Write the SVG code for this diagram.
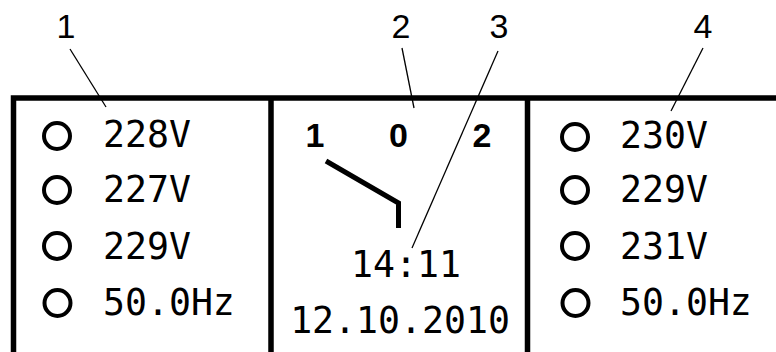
<svg xmlns="http://www.w3.org/2000/svg" width="776" height="352" viewBox="0 0 776 352">
<style>
.frame{fill:none;stroke:#000;stroke-width:5.5}
.led{fill:none;stroke:#000;stroke-width:4}
.val{font-family:"DejaVu Sans Mono",monospace;font-size:36.5px;fill:#000}
.pos{font-family:"Liberation Sans",Arial,sans-serif;font-size:34px;font-weight:bold;fill:#000}
.lbl{font-family:"Liberation Sans",Arial,sans-serif;font-size:34px;fill:#000}
.lead{fill:none;stroke:#000;stroke-width:1.3}
</style>
<rect width="776" height="352" fill="#fff"/>
<g id="frame">
<path class="frame" d="M13.5,352 V98 H776 M271,98 V352 M527.5,98 V352"/>
</g>
<g id="panel-left">
<circle class="led" cx="57" cy="136" r="13"/>
<circle class="led" cx="57" cy="190" r="13"/>
<circle class="led" cx="57" cy="246" r="13"/>
<circle class="led" cx="57.5" cy="303" r="13"/>
<text class="val" x="103" y="147">228V</text>
<text class="val" x="103" y="202">227V</text>
<text class="val" x="103" y="259">229V</text>
<text class="val" x="103" y="315">50.0Hz</text>
</g>
<g id="panel-center">
<text class="pos" x="315" y="147" text-anchor="middle">1</text>
<text class="pos" x="398.5" y="147" text-anchor="middle">0</text>
<text class="pos" x="482" y="147" text-anchor="middle">2</text>
<polyline points="326,161 398.5,203 398.5,228" fill="none" stroke="#000" stroke-width="5"/>
<text class="val" x="406" y="277" text-anchor="middle">14:11</text>
<text class="val" x="400" y="333" text-anchor="middle">12.10.2010</text>
</g>
<g id="panel-right">
<circle class="led" cx="575" cy="137" r="13"/>
<circle class="led" cx="575" cy="190" r="13"/>
<circle class="led" cx="575" cy="246" r="13"/>
<circle class="led" cx="575.5" cy="303" r="13"/>
<text class="val" x="620" y="148">230V</text>
<text class="val" x="620" y="202">229V</text>
<text class="val" x="620" y="259">231V</text>
<text class="val" x="620" y="315">50.0Hz</text>
</g>
<g id="labels">
<text class="lbl" x="66" y="38" text-anchor="middle">1</text>
<text class="lbl" x="401" y="38" text-anchor="middle">2</text>
<text class="lbl" x="499" y="38" text-anchor="middle">3</text>
<text class="lbl" x="703" y="38" text-anchor="middle">4</text>
</g>
<g id="connectors">
<line class="lead" x1="70" y1="49" x2="106" y2="107"/>
<line class="lead" x1="402" y1="48" x2="414" y2="108"/>
<line class="lead" x1="498" y1="51" x2="412" y2="248"/>
<line class="lead" x1="703" y1="48" x2="671" y2="111"/>
</g>
</svg>
